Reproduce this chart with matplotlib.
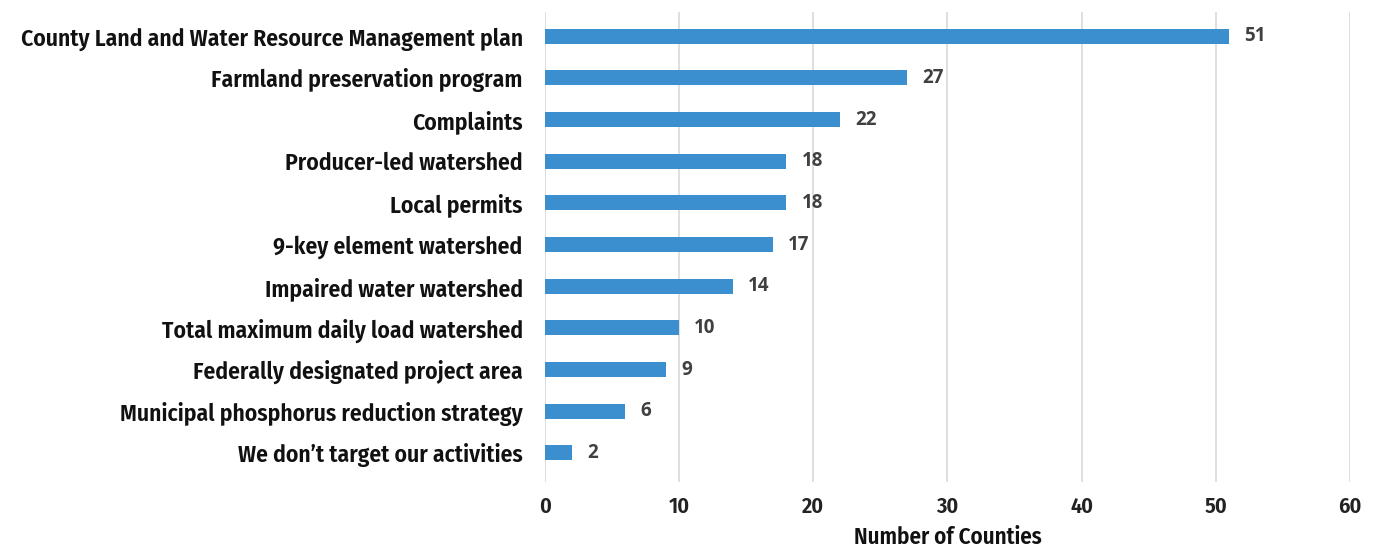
import matplotlib.pyplot as plt

categories = [
    "County Land and Water Resource Management plan",
    "Farmland preservation program",
    "Complaints",
    "Producer-led watershed",
    "Local permits",
    "9-key element watershed",
    "Impaired water watershed",
    "Total maximum daily load watershed",
    "Federally designated project area",
    "Municipal phosphorus reduction strategy",
    "We don\u2019t target our activities",
]
counties = [51, 27, 22, 18, 18, 17, 14, 10, 9, 6, 2]
xticks = [0, 10, 20, 30, 40, 50, 60]

narrow = ["Fira Sans Condensed", "DejaVu Sans"]

fig = plt.figure(figsize=(13.76, 5.54), dpi=100)
ax = fig.add_axes([0.396, 0.130, 0.585, 0.848])

y = list(range(len(categories)))
ax.barh(y, counties, height=0.36, color="#3b8fcf", zorder=3)

# value at the end of each bar
for yi, v in zip(y, counties):
    ax.annotate(str(v), (v, yi), xytext=(11, 0), textcoords="offset points",
                va="center", ha="left", fontsize=13.5, fontweight="bold",
                color="#404040", family=["Open Sans", "DejaVu Sans"])

ax.set_xlim(0, 60)
ax.set_ylim(10.7, -0.58)
ax.set_xticks(xticks)
ax.set_xticklabels([str(t) for t in xticks], fontsize=16, fontweight=600,
                   color="#222222", family=narrow)
ax.set_yticks(y)
ax.set_yticklabels(categories, fontsize=17, fontweight=600,
                   color="#111111", family=narrow)
ax.tick_params(axis="both", length=0)
ax.tick_params(axis="y", pad=16)
ax.tick_params(axis="x", pad=10)

ax.grid(axis="x", color="#d9d9d9", linewidth=1.2, zorder=0)
for s in ax.spines.values():
    s.set_visible(False)

ax.set_xlabel("Number of Counties", fontsize=16.5, fontweight=600,
              color="#111111", family=narrow, labelpad=6)

fig.savefig("out.png", dpi=100)
